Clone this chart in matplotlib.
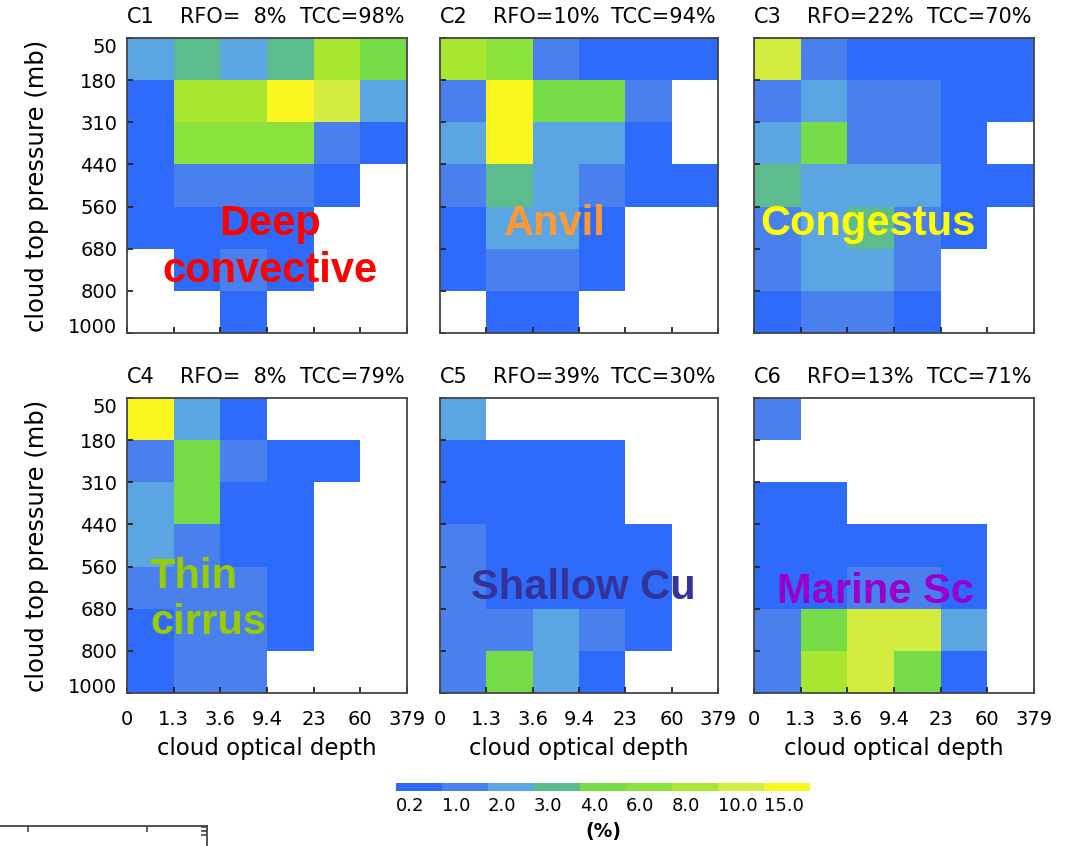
import numpy as np
import matplotlib.pyplot as plt
from matplotlib.colors import ListedColormap, BoundaryNorm

# ISCCP-style joint histograms: 7 cloud-top-pressure rows (top to bottom) x 6 optical-depth columns
tau_labels = ["0", "1.3", "3.6", "9.4", "23", "60", "379"]
ctp_labels = ["50", "180", "310", "440", "560", "680", "800", "1000"]

cluster_names = ["C1", "C2", "C3", "C4", "C5", "C6"]
rfo = [8, 10, 22, 8, 39, 13]
tcc = [98, 94, 70, 79, 30, 71]
regime_labels = ["Deep\nconvective", "Anvil", "Congestus", "Thin\ncirrus", "Shallow Cu", "Marine Sc"]
regime_colors = ["#ff0000", "#ff9933", "#ffff00", "#99cc00", "#333399", "#9900cc"]

c1 = [[2.5, 3.5, 2.5, 3.5, 9.0, 5.0],
      [0.6, 9.0, 9.0, 17., 12., 2.5],
      [0.6, 7.0, 7.0, 7.0, 1.5, 0.6],
      [0.6, 1.5, 1.5, 1.5, 0.6, 0.0],
      [0.6, 0.6, 0.6, 0.6, 0.0, 0.0],
      [0.0, 0.6, 1.5, 0.6, 0.0, 0.0],
      [0.0, 0.0, 0.6, 0.0, 0.0, 0.0]]
c2 = [[9.0, 7.0, 1.5, 0.6, 0.6, 0.6],
      [1.5, 17., 5.0, 5.0, 1.5, 0.0],
      [2.5, 17., 2.5, 2.5, 0.6, 0.0],
      [1.5, 3.5, 2.5, 1.5, 0.6, 0.6],
      [0.6, 2.5, 2.5, 0.6, 0.0, 0.0],
      [0.6, 1.5, 1.5, 0.6, 0.0, 0.0],
      [0.0, 0.6, 0.6, 0.0, 0.0, 0.0]]
c3 = [[12., 1.5, 0.6, 0.6, 0.6, 0.6],
      [1.5, 2.5, 1.5, 1.5, 0.6, 0.6],
      [2.5, 5.0, 1.5, 1.5, 0.6, 0.0],
      [3.5, 2.5, 2.5, 2.5, 0.6, 0.6],
      [1.5, 2.5, 3.5, 1.5, 0.6, 0.0],
      [1.5, 2.5, 2.5, 1.5, 0.0, 0.0],
      [0.6, 1.5, 1.5, 0.6, 0.0, 0.0]]
c4 = [[17., 2.5, 0.6, 0.0, 0.0, 0.0],
      [1.5, 5.0, 1.5, 0.6, 0.6, 0.0],
      [2.5, 5.0, 0.6, 0.6, 0.0, 0.0],
      [2.5, 1.5, 0.6, 0.6, 0.0, 0.0],
      [1.5, 1.5, 1.5, 0.6, 0.0, 0.0],
      [0.6, 1.5, 1.5, 0.6, 0.0, 0.0],
      [0.6, 1.5, 1.5, 0.0, 0.0, 0.0]]
c5 = [[2.5, 0.0, 0.0, 0.0, 0.0, 0.0],
      [0.6, 0.6, 0.6, 0.6, 0.0, 0.0],
      [0.6, 0.6, 0.6, 0.6, 0.0, 0.0],
      [1.5, 0.6, 0.6, 0.6, 0.6, 0.0],
      [1.5, 0.6, 0.6, 0.6, 0.6, 0.0],
      [1.5, 1.5, 2.5, 1.5, 0.6, 0.0],
      [1.5, 5.0, 2.5, 0.6, 0.0, 0.0]]
c6 = [[1.5, 0.0, 0.0, 0.0, 0.0, 0.0],
      [0.0, 0.0, 0.0, 0.0, 0.0, 0.0],
      [0.6, 0.6, 0.0, 0.0, 0.0, 0.0],
      [0.6, 0.6, 0.6, 0.6, 0.6, 0.0],
      [0.6, 0.6, 1.5, 1.5, 0.6, 0.0],
      [1.5, 5.0, 12., 12., 2.5, 0.0],
      [1.5, 9.0, 12., 5.0, 0.6, 0.0]]
histograms = [c1, c2, c3, c4, c5, c6]

levels = [0.2, 1.0, 2.0, 3.0, 4.0, 6.0, 8.0, 10.0, 15.0, 20.0]
level_colors = ["#2e6bfa", "#4a80ee", "#5ba6e2", "#5dbc8e", "#75dc48",
                "#8ce23c", "#a8e630", "#d4ec40", "#faf51e"]

W, H = 1072, 846
cmap = ListedColormap(level_colors)
cmap.set_under("white")
norm = BoundaryNorm(levels, cmap.N)


def rect(x0, x1, y0, y1):
    return [x0 / W, 1 - y1 / H, (x1 - x0) / W, (y1 - y0) / H]


plt.rcParams["font.family"] = "DejaVu Sans"
fig = plt.figure(figsize=(W / 100, H / 100), dpi=100)

col_px = [(127, 407), (440, 718), (754, 1034)]
row_px = [(38, 333), (398, 693)]
# where each regime name sits inside its panel (axes fraction)
label_pos = [(0.51, 0.29), (0.414, 0.37), (0.407, 0.37), (0.082, 0.315), (0.515, 0.356), (0.432, 0.342)]

for i, data in enumerate(histograms):
    r, c = divmod(i, 3)
    ax = fig.add_axes(rect(*col_px[c], *row_px[r]))
    vals = np.array(data)
    mesh = ax.pcolormesh(np.arange(7), np.arange(8), vals, cmap=cmap, norm=norm)
    ax.set_xlim(0, 6)
    ax.set_ylim(7, 0)
    ax.set_xticks(np.arange(7))
    ax.set_yticks(np.arange(8))
    ax.tick_params(direction="in", length=4, width=1.3, color="#222222",
                   labelsize=14, pad=7, top=False, right=False)
    ax.tick_params(axis="x", pad=12)
    for s in ax.spines.values():
        s.set_color("#444444")
        s.set_linewidth(1.3)
    if c == 0:
        ax.set_yticklabels(ctp_labels)
        yl = ax.get_yticklabels()
        yl[0].set_verticalalignment("top")
        yl[-1].set_verticalalignment("baseline")
        ax.set_ylabel("cloud top pressure (mb)", fontsize=17.5, labelpad=14)
    else:
        ax.set_yticklabels([])
    if r == 1:
        ax.set_xticklabels(tau_labels)
        ax.set_xlabel("cloud optical depth", fontsize=16.5, labelpad=6)
    else:
        ax.set_xticklabels([])

    title_kw = dict(transform=ax.transAxes, fontsize=15, va="center")
    ax.text(0.0, 1.07, cluster_names[i], ha="left", **title_kw)
    rfo_txt = f"{rfo[i]:2d}".replace(" ", "\u2007")
    ax.text(0.19, 1.07, f"RFO={rfo_txt}%", ha="left", **title_kw)
    ax.text(0.99, 1.07, f"TCC={tcc[i]}%", ha="right", **title_kw)

    lx, ly = label_pos[i]
    ax.text(lx, ly, regime_labels[i], transform=ax.transAxes,
            family="Liberation Sans", fontweight="bold", fontsize=30,
            color=regime_colors[i], ha="left" if i == 3 else "center",
            va="center", linespacing=1.2)

# shared colour key
cax = fig.add_axes(rect(396, 810, 783, 791))
cbar = fig.colorbar(mesh, cax=cax, orientation="horizontal", ticks=levels[:-1])
cbar.outline.set_visible(False)
cbar.minorticks_off()
cax.tick_params(length=0, labelsize=13, pad=4)
cax.set_xticklabels([f"{v:.1f}" for v in levels[:-1]], ha="left")
fig.text(603 / W, 1 - 831 / H, "(%)", fontsize=13.5, fontweight="bold",
         ha="center", va="center")

# clipped frame at the lower-left corner
frag = fig.add_axes(rect(0, 207, 826, 846))
frag.set_xlim(0, 207)
frag.set_ylim(0, 1)
frag.set_facecolor("none")
frag.spines["left"].set_visible(False)
frag.spines["bottom"].set_visible(False)
for s in ("top", "right"):
    frag.spines[s].set_color("#444444")
    frag.spines[s].set_linewidth(1.3)
frag.xaxis.tick_top()
frag.set_xticks([28, 147])
frag.set_xticklabels([])
frag.yaxis.tick_right()
frag.set_yticks([0.55, 0.75, 0.95])
frag.set_yticklabels([])
frag.tick_params(direction="in", length=4, width=1.2, color="#444444")

fig.savefig("out.png", dpi=100)
